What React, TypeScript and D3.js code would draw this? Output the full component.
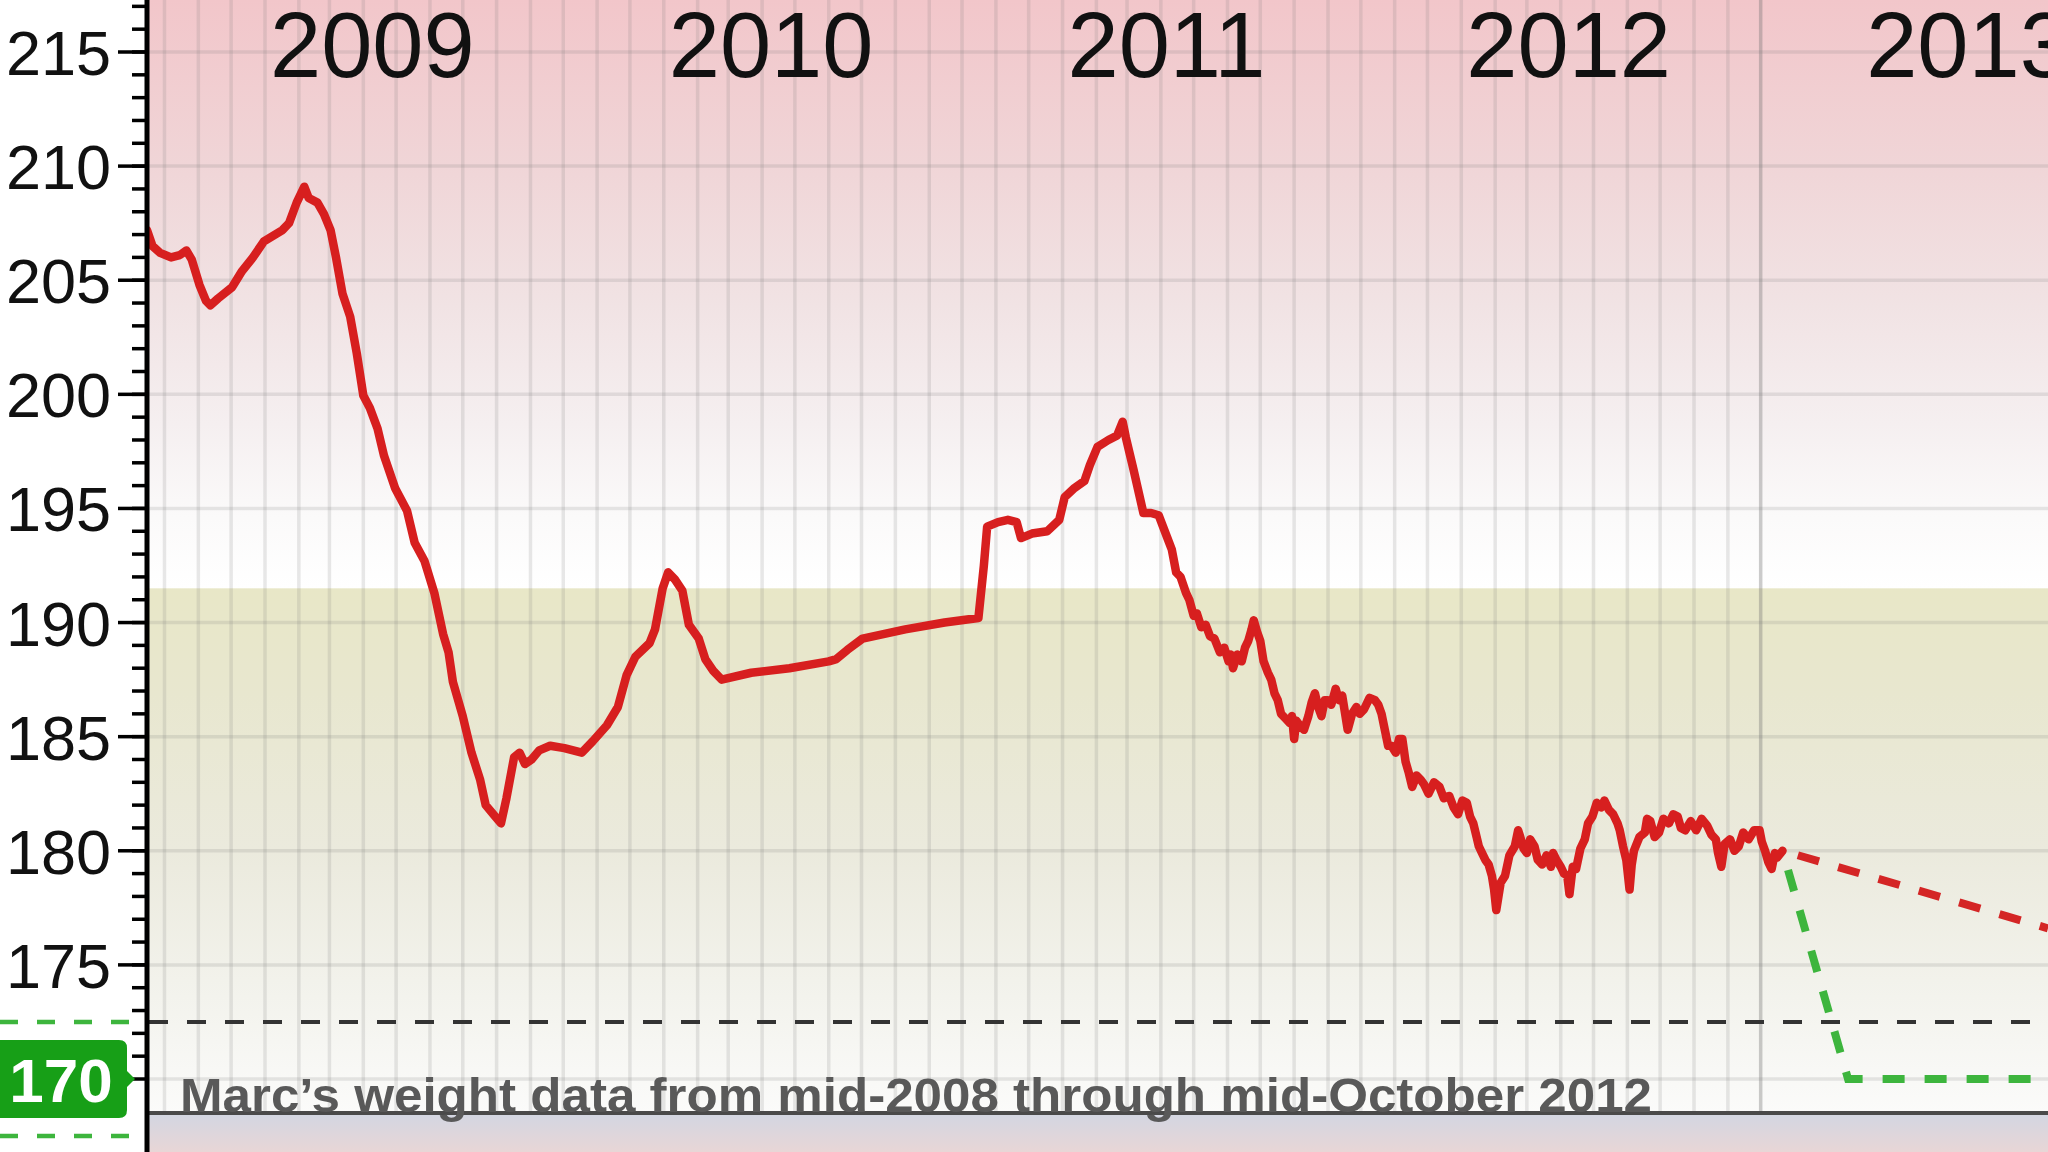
import React from 'react';
import * as d3 from 'd3';

const W = 2048;
const H = 1152;

// ---- data ----
const yearLabels = ['2009', '2010', '2011', '2012', '2013'];
const majorTicks = [215, 210, 205, 200, 195, 190, 185, 180, 175];
const goalWeight = 170;
const goalBand: [number, number] = [167.5, 172.5];
const bandTop = 191.5;
const caption = 'Marc\u2019s weight data from mid-2008 through mid-October 2012';

const weighIns: [string, number][] = [
  ['2008-09-15', 207.2], ['2008-09-20', 206.5], ['2008-09-27', 206.2], ['2008-10-07', 206.0],
  ['2008-10-15', 206.1], ['2008-10-21', 206.3], ['2008-10-26', 205.9], ['2008-11-02', 204.8],
  ['2008-11-08', 204.1], ['2008-11-12', 203.9], ['2008-11-19', 204.2], ['2008-12-02', 204.7],
  ['2008-12-11', 205.4], ['2008-12-21', 206.0], ['2008-12-31', 206.7], ['2009-01-17', 207.2],
  ['2009-01-23', 207.5], ['2009-01-30', 208.4], ['2009-02-06', 209.1], ['2009-02-10', 208.6],
  ['2009-02-18', 208.4], ['2009-02-24', 207.9], ['2009-03-02', 207.2], ['2009-03-07', 206.0],
  ['2009-03-13', 204.4], ['2009-03-20', 203.4], ['2009-03-26', 201.8], ['2009-04-01', 199.95],
  ['2009-04-07', 199.4], ['2009-04-14', 198.5], ['2009-04-20', 197.3], ['2009-04-30', 195.9],
  ['2009-05-11', 194.9], ['2009-05-18', 193.5], ['2009-05-27', 192.7], ['2009-06-05', 191.3],
  ['2009-06-13', 189.5], ['2009-06-18', 188.7], ['2009-06-22', 187.4], ['2009-07-01', 185.9],
  ['2009-07-09', 184.3], ['2009-07-17', 183.1], ['2009-07-22', 182.0], ['2009-07-29', 181.6],
  ['2009-08-05', 181.2], ['2009-08-10', 182.3], ['2009-08-17', 184.1], ['2009-08-22', 184.3],
  ['2009-08-27', 183.8], ['2009-09-02', 184.0], ['2009-09-09', 184.4], ['2009-09-19', 184.6],
  ['2009-10-02', 184.5], ['2009-10-18', 184.3], ['2009-10-28', 184.8], ['2009-11-10', 185.5],
  ['2009-11-20', 186.3], ['2009-11-28', 187.7], ['2009-12-06', 188.5], ['2009-12-19', 189.1],
  ['2009-12-24', 189.7], ['2009-12-31', 191.5], ['2010-01-05', 192.2], ['2010-01-11', 191.9],
  ['2010-01-18', 191.4], ['2010-01-24', 189.9], ['2010-02-02', 189.3], ['2010-02-08', 188.4],
  ['2010-02-15', 187.9], ['2010-02-23', 187.5], ['2010-03-22', 187.8], ['2010-04-26', 188.0],
  ['2010-06-01', 188.3], ['2010-06-08', 188.4], ['2010-06-18', 188.8], ['2010-07-02', 189.3],
  ['2010-08-10', 189.7], ['2010-09-15', 190.0], ['2010-10-16', 190.2], ['2010-10-21', 192.5],
  ['2010-10-24', 194.2], ['2010-11-03', 194.4], ['2010-11-12', 194.5], ['2010-11-20', 194.4],
  ['2010-11-24', 193.7], ['2010-12-04', 193.9], ['2010-12-18', 194.0], ['2010-12-29', 194.5],
  ['2011-01-03', 195.5], ['2011-01-12', 195.9], ['2011-01-21', 196.2], ['2011-01-26', 196.9],
  ['2011-02-02', 197.7], ['2011-02-12', 198.0], ['2011-02-20', 198.2], ['2011-02-25', 198.8],
  ['2011-02-28', 198.1], ['2011-03-07', 196.7], ['2011-03-16', 194.8], ['2011-03-23', 194.8],
  ['2011-03-30', 194.7], ['2011-04-07', 193.7], ['2011-04-11', 193.2], ['2011-04-15', 192.2],
  ['2011-04-19', 192.0], ['2011-04-24', 191.3], ['2011-04-27', 191.0], ['2011-05-01', 190.3],
  ['2011-05-04', 190.4], ['2011-05-08', 189.8], ['2011-05-12', 189.9], ['2011-05-16', 189.4],
  ['2011-05-20', 189.3], ['2011-05-25', 188.7], ['2011-05-29', 188.9], ['2011-06-02', 188.3],
  ['2011-06-04', 188.6], ['2011-06-06', 188.0], ['2011-06-10', 188.6], ['2011-06-14', 188.3],
  ['2011-06-17', 188.9], ['2011-06-20', 189.2], ['2011-06-23', 189.7], ['2011-06-25', 190.1],
  ['2011-06-28', 189.6], ['2011-07-01', 189.2], ['2011-07-04', 188.3], ['2011-07-08', 187.8],
  ['2011-07-11', 187.5], ['2011-07-14', 186.9], ['2011-07-17', 186.6], ['2011-07-20', 186.0],
  ['2011-07-24', 185.8], ['2011-07-28', 185.6], ['2011-07-30', 185.9], ['2011-08-01', 184.9],
  ['2011-08-03', 185.7], ['2011-08-06', 185.5], ['2011-08-10', 185.3], ['2011-08-14', 185.9],
  ['2011-08-17', 186.5], ['2011-08-20', 186.9], ['2011-08-23', 186.3], ['2011-08-26', 185.9],
  ['2011-08-29', 186.6], ['2011-09-01', 186.6], ['2011-09-04', 186.4], ['2011-09-08', 187.1],
  ['2011-09-11', 186.6], ['2011-09-14', 186.8], ['2011-09-16', 186.2], ['2011-09-19', 185.3],
  ['2011-09-23', 186.0], ['2011-09-27', 186.3], ['2011-09-30', 186.0], ['2011-10-04', 186.2],
  ['2011-10-09', 186.7], ['2011-10-14', 186.6], ['2011-10-17', 186.4], ['2011-10-20', 186.0],
  ['2011-10-23', 185.3], ['2011-10-26', 184.6], ['2011-10-29', 184.6], ['2011-11-02', 184.3],
  ['2011-11-05', 184.9], ['2011-11-08', 184.9], ['2011-11-11', 183.9], ['2011-11-14', 183.4],
  ['2011-11-17', 182.8], ['2011-11-21', 183.3], ['2011-11-25', 183.1], ['2011-11-28', 182.9],
  ['2011-12-02', 182.5], ['2011-12-07', 183.0], ['2011-12-12', 182.8], ['2011-12-16', 182.3],
  ['2011-12-21', 182.4], ['2011-12-25', 181.9], ['2011-12-29', 181.6], ['2012-01-02', 182.2],
  ['2012-01-06', 182.1], ['2012-01-09', 181.5], ['2012-01-12', 181.2], ['2012-01-15', 180.6],
  ['2012-01-17', 180.2], ['2012-01-20', 179.9], ['2012-01-23', 179.6], ['2012-01-26', 179.4],
  ['2012-01-29', 178.9], ['2012-01-31', 178.3], ['2012-02-02', 177.4], ['2012-02-06', 178.6],
  ['2012-02-10', 178.9], ['2012-02-14', 179.8], ['2012-02-19', 180.2], ['2012-02-22', 180.9],
  ['2012-02-24', 180.6], ['2012-02-27', 180.1], ['2012-03-01', 179.9], ['2012-03-04', 180.5],
  ['2012-03-08', 180.2], ['2012-03-11', 179.6], ['2012-03-15', 179.4], ['2012-03-19', 179.8],
  ['2012-03-23', 179.3], ['2012-03-25', 179.9], ['2012-03-28', 179.6], ['2012-04-01', 179.3],
  ['2012-04-04', 179.0], ['2012-04-07', 178.9], ['2012-04-09', 178.1], ['2012-04-12', 179.3],
  ['2012-04-15', 179.2], ['2012-04-19', 180.1], ['2012-04-23', 180.5], ['2012-04-26', 181.2],
  ['2012-04-30', 181.5], ['2012-05-04', 182.1], ['2012-05-08', 181.9], ['2012-05-11', 182.2],
  ['2012-05-15', 181.8], ['2012-05-19', 181.6], ['2012-05-23', 181.2], ['2012-05-25', 180.9],
  ['2012-05-28', 180.2], ['2012-05-31', 179.6], ['2012-06-03', 178.3], ['2012-06-05', 179.4],
  ['2012-06-07', 180.0], ['2012-06-12', 180.6], ['2012-06-17', 180.8], ['2012-06-19', 181.4],
  ['2012-06-22', 181.3], ['2012-06-26', 180.6], ['2012-06-30', 180.8], ['2012-07-04', 181.4],
  ['2012-07-09', 181.2], ['2012-07-13', 181.6], ['2012-07-17', 181.5], ['2012-07-20', 181.0],
  ['2012-07-24', 180.9], ['2012-07-29', 181.3], ['2012-08-03', 180.9], ['2012-08-08', 181.4],
  ['2012-08-13', 181.1], ['2012-08-17', 180.7], ['2012-08-21', 180.5], ['2012-08-23', 179.9],
  ['2012-08-26', 179.3], ['2012-08-29', 180.3], ['2012-09-03', 180.5], ['2012-09-07', 180.0],
  ['2012-09-11', 180.2], ['2012-09-15', 180.8], ['2012-09-20', 180.5], ['2012-09-25', 180.9],
  ['2012-09-30', 180.9], ['2012-10-02', 180.4], ['2012-10-05', 180.0], ['2012-10-08', 179.5],
  ['2012-10-11', 179.2], ['2012-10-14', 179.9], ['2012-10-16', 179.7], ['2012-10-21', 180.0],
];

const projectionTrend: [string, number][] = [['2012-10-21', 180.0], ['2013-06-21', 176.6]];
const projectionGoal: [string, number][] = [['2012-10-21', 180.0], ['2012-12-20', 170.0], ['2013-06-21', 170.0]];

const domainStart = '2008-09-15';
const domainEnd = '2013-06-21';
const gridStart = '2008-10-01';
const gridEnd = '2012-10-01';

const parse = d3.timeParse('%Y-%m-%d');

export default function App() {
  const left = 147;
  const plotBottom = 1113;
  const x = d3.scaleTime().domain([parse(domainStart)!, parse(domainEnd)!]).range([left, W]);
  const y = d3.scaleLinear().domain([170, 215]).range([1079, 52]);

  const line = d3
    .line<[string, number]>()
    .x((d) => x(parse(d[0])!))
    .y((d) => y(d[1]));

  const months = d3.timeMonth.range(parse(gridStart)!, d3.timeDay.offset(parse(gridEnd)!, 1));
  const hLines = d3.range(170, 216, 5);
  const minorTicks = d3.range(170, 218);
  const font = '"Liberation Sans", Arial, Helvetica, sans-serif';
  const yBand = y(bandTop);
  const goalY = y(goalWeight);
  const gridColor = 'rgba(120,120,120,0.17)';

  return (
    <div style={{ position: 'absolute', left: 0, top: 0, width: W, height: H, overflow: 'hidden' }}>
      <svg width={W} height={H} style={{ display: 'block', background: '#ffffff' }}>
        <defs>
          <linearGradient id="pinkG" gradientUnits="userSpaceOnUse" x1="0" y1="0" x2="0" y2={yBand}>
            <stop offset="0" stopColor="#f2c6ca" />
            <stop offset="0.28" stopColor="#f0d5d7" />
            <stop offset="0.52" stopColor="#f1e3e4" />
            <stop offset="0.72" stopColor="#f5eff0" />
            <stop offset="0.88" stopColor="#fbfafa" />
            <stop offset="1" stopColor="#ffffff" />
          </linearGradient>
          <linearGradient id="oliveG" gradientUnits="userSpaceOnUse" x1="0" y1={yBand} x2="0" y2={plotBottom}>
            <stop offset="0" stopColor="#e8e7c7" />
            <stop offset="0.2" stopColor="#e8e7cf" />
            <stop offset="0.5" stopColor="#ebeadd" />
            <stop offset="0.78" stopColor="#f3f3ed" />
            <stop offset="1" stopColor="#fbfbfa" />
          </linearGradient>
          <linearGradient id="footG" gradientUnits="userSpaceOnUse" x1="0" y1={plotBottom} x2="0" y2={H}>
            <stop offset="0" stopColor="#d2d6e2" />
            <stop offset="1" stopColor="#e8d6d6" />
          </linearGradient>
          <clipPath id="plotClip">
            <rect x={left} y={0} width={W - left} height={plotBottom} />
          </clipPath>
        </defs>

        {/* backgrounds */}
        <rect x={left} y={0} width={W - left} height={yBand} fill="url(#pinkG)" />
        <rect x={left} y={yBand} width={W - left} height={plotBottom - yBand} fill="url(#oliveG)" />
        <rect x={left} y={plotBottom} width={W - left} height={H - plotBottom} fill="url(#footG)" />

        {/* grid */}
        <g clipPath="url(#plotClip)">
          {hLines.map((v) => (
            <line key={'h' + v} x1={left} x2={W} y1={y(v)} y2={y(v)} stroke={gridColor} strokeWidth={3.5} />
          ))}
          {months.map((m, i) => (
            <line
              key={'v' + i}
              x1={x(m)}
              x2={x(m)}
              y1={0}
              y2={plotBottom}
              stroke={i === months.length - 1 ? 'rgba(110,110,110,0.35)' : gridColor}
              strokeWidth={3.5}
            />
          ))}
        </g>

        {/* year labels */}
        {yearLabels.map((yr) => (
          <text key={yr} x={x(parse(yr + '-01-01')!) + 5} y={77} fontFamily={font} fontSize={92} fill="#111">
            {yr}
          </text>
        ))}

        {/* goal band edge dashed line */}
        <line x1={left + 2} x2={W} y1={y(goalBand[1])} y2={y(goalBand[1])} stroke="#333" strokeWidth={4} strokeDasharray="19 19" />

        {/* projections and data */}
        <g clipPath="url(#plotClip)">
          <path d={line(projectionTrend) || ''} fill="none" stroke="#d42525" strokeWidth={8} strokeDasharray="22 20" strokeDashoffset={-16} />
          <path d={line(projectionGoal) || ''} fill="none" stroke="#3db53d" strokeWidth={8} strokeDasharray="22 20" strokeDashoffset={-20} />
          <path d={line(weighIns) || ''} fill="none" stroke="#d71f1f" strokeWidth={8.5} strokeLinejoin="round" strokeLinecap="round" />
        </g>

        {/* bottom axis line */}
        <line x1={left} x2={W} y1={plotBottom} y2={plotBottom} stroke="#4a4a4a" strokeWidth={4} />

        {/* caption */}
        <text x={180} y={plotBottom - 1} fontFamily={'"Liberation Sans Narrow", "Liberation Sans", Arial, sans-serif'} fontWeight="bold" fontSize={48} fill="#595959" textLength={1472} lengthAdjust="spacingAndGlyphs">
          {caption}
        </text>

        {/* y axis */}
        {minorTicks.map((v) => (
          <line key={'t' + v} x1={132} x2={left} y1={y(v)} y2={y(v)} stroke="#000" strokeWidth={3.5} />
        ))}
        {majorTicks.map((v) => (
          <g key={'m' + v}>
            <line x1={118} x2={left} y1={y(v)} y2={y(v)} stroke="#000" strokeWidth={3.5} />
            <text x={111} y={y(v) + 23} textAnchor="end" fontFamily={font} fontSize={63} fill="#111">
              {v}
            </text>
          </g>
        ))}
        <line x1={left} x2={left} y1={0} y2={H} stroke="#000" strokeWidth={5} />

        {/* goal band markers left of the axis */}
        {goalBand.map((v) => (
          <line key={'g' + v} x1={0} x2={130} y1={y(v)} y2={y(v)} stroke="#3db53d" strokeWidth={4.5} strokeDasharray="18 19" />
        ))}

        {/* goal label box */}
        <path
          d={`M -10 ${goalY - 39} H 119 Q 127 ${goalY - 39} 127 ${goalY - 31} V ${goalY - 8} L 135 ${goalY} L 127 ${goalY + 8} V ${goalY + 31} Q 127 ${goalY + 39} 119 ${goalY + 39} H -10 Z`}
          fill="#179f17"
        />
        <text x={61} y={goalY + 23} textAnchor="middle" fontFamily={font} fontWeight="bold" fontSize={62} fill="#ffffff">
          {goalWeight}
        </text>
      </svg>
    </div>
  );
}
